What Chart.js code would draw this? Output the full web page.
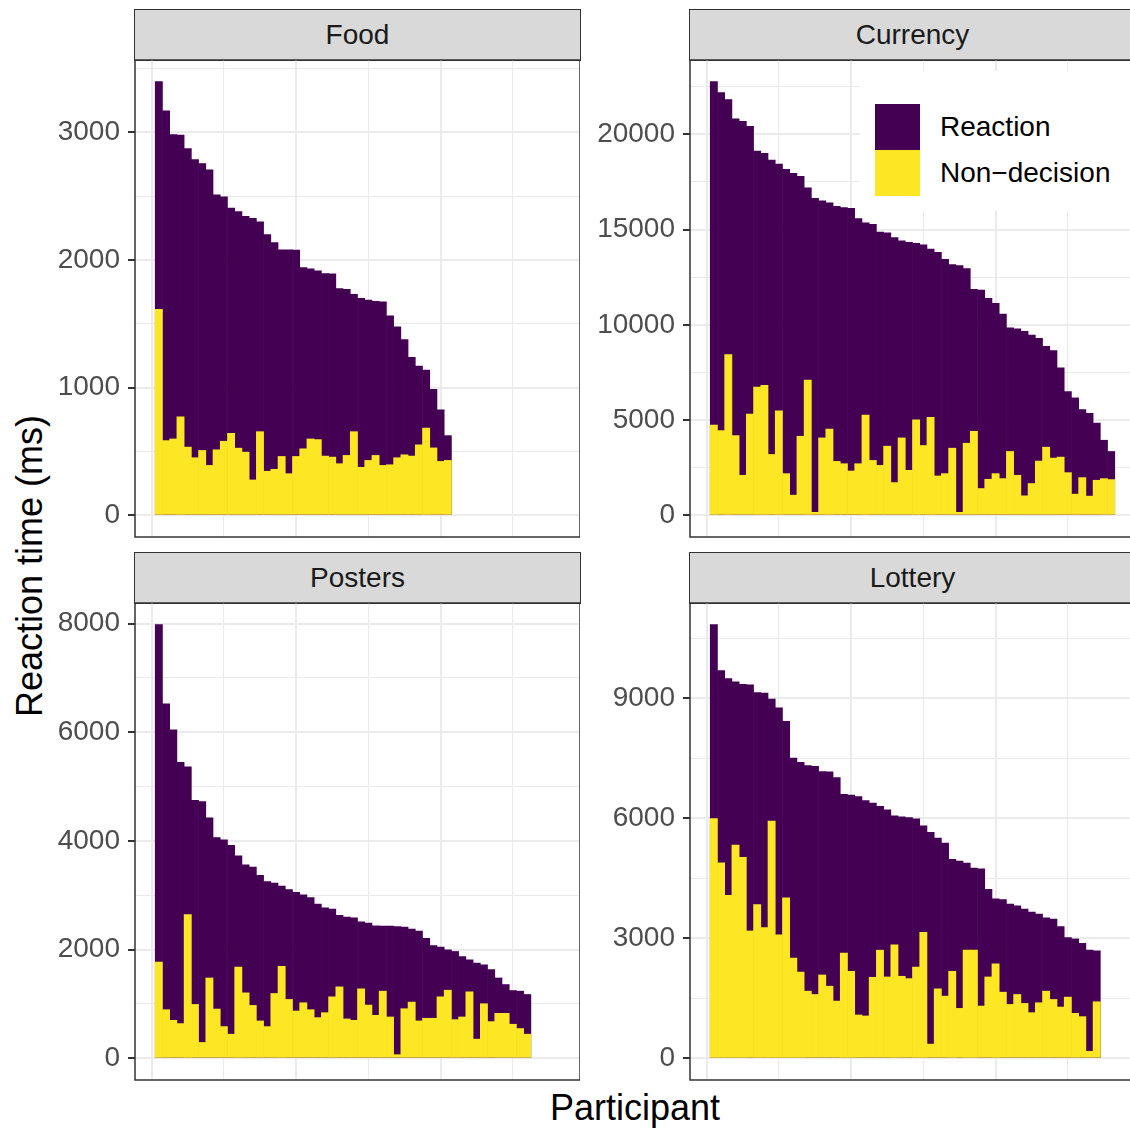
<!DOCTYPE html>
<html>
<head>
<meta charset="utf-8">
<script src="https://cdn.jsdelivr.net/npm/chart.js@4.4.1/dist/chart.umd.min.js"></script>
<style>
  body { margin: 0; width: 1130px; height: 1134px; overflow: hidden; background: #fff;
         position: relative; font-family: "Liberation Sans", Arial, sans-serif; }
  canvas { position: absolute; }
  .strip { position: absolute; box-sizing: border-box; background: #d9d9d9; border: 1.5px solid #333;
           color: #1a1a1a; font-size: 28px; text-align: center; }
  .title { position: absolute; font-size: 36px; color: #000; text-align: center; white-space: nowrap; }
  #legend { position: absolute; left: 860px; top: 71px; width: 275px; height: 140px; background: #fff; z-index: 5; }
  .key { position: absolute; left: 15px; width: 45px; height: 46px; }
  .lab { position: absolute; left: 80px; font-size: 28px; line-height: 46px; color: #000; white-space: nowrap; }
</style>
</head>
<body>
<div id="legend">
  <div class="key" style="top:33px;background:#440154"></div>
  <div class="lab" style="top:33px">Reaction</div>
  <div class="key" style="top:79px;background:#FDE725"></div>
  <div class="lab" style="top:79px">Non−decision</div>
</div>
<div class="title" style="left:335px;top:1088px;width:600px;line-height:40px">Participant</div>
<div class="title" style="left:-170px;top:546px;width:400px;line-height:40px;transform:rotate(-90deg)">Reaction time (ms)</div>
<script>
// total reaction time per participant (ms), sorted
const foodRT = [3396,3168,2982,2977,2873,2785,2754,2705,2510,2495,
  2407,2378,2342,2326,2298,2199,2135,2080,2080,2078,
  1940,1930,1914,1894,1891,1775,1769,1731,1699,1686,
  1676,1671,1562,1477,1376,1238,1168,1137,987,826,624];
const foodND = [1614,585,598,772,534,451,508,391,513,580,
  642,526,495,277,655,345,360,461,326,461,
  521,598,593,464,456,404,469,655,376,430,
  469,391,396,451,474,464,552,684,528,422,430];

const currencyRT = [22760,22187,21823,20816,20677,20417,19115,18993,18646,18438,
  18160,17951,17795,17188,16632,16510,16406,16215,16146,16111,
  15573,15347,15278,14861,14826,14583,14410,14323,14271,14201,
  13976,13802,13438,13160,13108,12951,11858,11823,11389,11128,
  10556,9844,9792,9653,9462,9288,8872,8646,7743,6493,
  6163,5556,5347,4844,3941,3351];
const currencyND = [4740,4444,8438,4184,2101,5313,6736,6823,3194,5486,
  2188,1059,4149,7101,156,4063,4531,2830,2708,2326,
  2708,5260,2882,2622,3628,1719,4063,2361,5017,3663,
  5139,2066,2188,3524,156,3785,4410,1406,1892,2188,
  1927,3351,2101,1024,1667,2847,3576,3003,3056,2240,
  1111,1979,1007,1840,1927,1875];

const postersRT = [7982,6527,6046,5449,5364,4749,4725,4426,4061,4024,
  3921,3726,3562,3519,3367,3251,3227,3172,3105,3056,
  3008,2959,2837,2770,2746,2630,2600,2588,2514,2490,
  2441,2435,2435,2423,2417,2381,2344,2210,2076,2046,
  1997,1967,1875,1814,1753,1723,1632,1479,1358,1248,
  1236,1175];
const postersND = [1772,895,700,639,2648,992,292,1479,907,584,
  444,1680,1205,974,688,584,1193,1693,1084,871,
  1023,895,749,840,1132,1315,725,700,1279,980,
  791,1236,761,67,913,1035,688,737,737,1132,
  1254,712,761,1224,353,1005,676,828,828,627,
  548,444];

const lotteryRT = [10835,9686,9488,9405,9347,9331,9140,9124,8975,8760,
  8421,7504,7397,7314,7298,7165,7157,7017,6595,6579,
  6537,6438,6380,6298,6207,6058,6033,6017,5983,5810,
  5645,5504,5380,4975,4926,4876,4752,4736,4223,3983,
  3967,3851,3810,3727,3653,3603,3512,3479,3289,3017,
  2983,2876,2702,2686];
const lotteryND = [5992,4884,4074,5331,5025,3182,3843,3264,5926,3083,
  4008,2504,2157,1678,1595,2083,1802,1430,2628,2174,
  1083,1058,2025,2702,2033,2835,2050,1992,2281,3149,
  355,1736,1554,2174,1248,2702,2702,1306,2033,2364,
  1653,1347,1595,1372,1140,1388,1678,1471,1281,1529,
  1124,1041,174,1413];

// labelled y ticks for each facet
const foodTicks = [0, 1000, 2000, 3000];
const currencyTicks = [0, 5000, 10000, 15000, 20000];
const postersTicks = [0, 2000, 4000, 6000, 8000];
const lotteryTicks = [0, 3000, 6000, 9000];
const xGrid = [0, 10, 20, 30, 40, 50];

const FONT = '"Liberation Sans", Arial, sans-serif';
const PW = 445, PH = 477, AXW = 95, PAD = 30;

const panels = [
  { title: "Food", left: 135, top: 60, rt: foodRT, nd: foodND, ticks: foodTicks },
  { title: "Currency", left: 690, top: 60, rt: currencyRT, nd: currencyND, ticks: currencyTicks },
  { title: "Posters", left: 135, top: 603, rt: postersRT, nd: postersND, ticks: postersTicks },
  { title: "Lottery", left: 690, top: 603, rt: lotteryRT, nd: lotteryND, ticks: lotteryTicks }
];

const nMax = Math.max(...panels.map(p => p.rt.length));
const xMin = 0.5 - 0.05 * nMax;
const xMax = nMax + 0.5 + 0.05 * nMax;

const panelBorder = {
  id: "panelBorder",
  afterDraw(chart) {
    const a = chart.chartArea, c = chart.ctx;
    c.save();
    c.strokeStyle = "#333";
    c.lineWidth = 1.5;
    c.strokeRect(a.left, a.top, a.right - a.left, a.bottom - a.top);
    c.restore();
  }
};

panels.forEach(drawPanel);

function drawPanel(p) {
  const strip = document.createElement("div");
  strip.className = "strip";
  strip.style.left = (p.left - 1) + "px";
  strip.style.top = (p.top - 51) + "px";
  strip.style.width = (PW + 2) + "px";
  strip.style.height = "52px";
  strip.style.lineHeight = "49px";
  strip.innerText = p.title;
  document.body.appendChild(strip);

  const canvas = document.createElement("canvas");
  canvas.width = AXW + PW;
  canvas.height = PH + 2 * PAD;
  canvas.style.left = (p.left - AXW) + "px";
  canvas.style.top = (p.top - PAD) + "px";
  document.body.appendChild(canvas);

  const ymax = Math.max(...p.rt);
  const half = (p.ticks[1] - p.ticks[0]) / 2;
  const yGrid = [];
  for (let v = 0; v <= 1.05 * ymax; v += half) yGrid.push(v);
  const isMajor = v => p.ticks.includes(v);

  new Chart(canvas.getContext("2d"), {
    type: "bar",
    data: {
      datasets: [
        { label: "Non−decision", data: p.nd.map((v, i) => ({ x: i + 1, y: v })),
          backgroundColor: "#FDE725", grouped: false, borderWidth: 0,
          barPercentage: 1, categoryPercentage: 1 },
        { label: "Reaction", data: p.rt.map((v, i) => ({ x: i + 1, y: v })),
          backgroundColor: "#440154", grouped: false, borderWidth: 0,
          barPercentage: 1, categoryPercentage: 1 }
      ]
    },
    options: {
      responsive: false,
      animation: false,
      devicePixelRatio: 1,
      layout: { padding: { top: PAD, bottom: PAD, left: 0, right: 0 } },
      plugins: { legend: { display: false }, tooltip: { enabled: false } },
      scales: {
        x: {
          type: "linear", min: xMin, max: xMax, offset: false,
          afterBuildTicks: s => { s.ticks = xGrid.map(v => ({ value: v })); },
          afterFit: s => { s.height = 0; },
          ticks: { display: false },
          border: { display: false },
          grid: { color: "#ebebeb", offset: false, drawTicks: false,
                  lineWidth: c => (c.tick && c.tick.value % 20 === 0) ? 2 : 1.1 }
        },
        y: {
          min: -0.05 * ymax, max: 1.05 * ymax,
          afterBuildTicks: s => { s.ticks = yGrid.map(v => ({ value: v })); },
          afterFit: s => { s.width = AXW; },
          border: { display: false },
          ticks: { autoSkip: false, padding: 8, color: "#4d4d4d",
                   font: { family: FONT, size: 28 },
                   callback: v => isMajor(v) ? String(v) : "" },
          grid: { color: "#ebebeb", tickLength: 7, tickWidth: 2,
                  lineWidth: c => (c.tick && isMajor(c.tick.value)) ? 2 : 1.1,
                  tickColor: c => (c.tick && isMajor(c.tick.value)) ? "#333" : "rgba(0,0,0,0)" }
        }
      }
    },
    plugins: [panelBorder]
  });
}
</script>
</body>
</html>
